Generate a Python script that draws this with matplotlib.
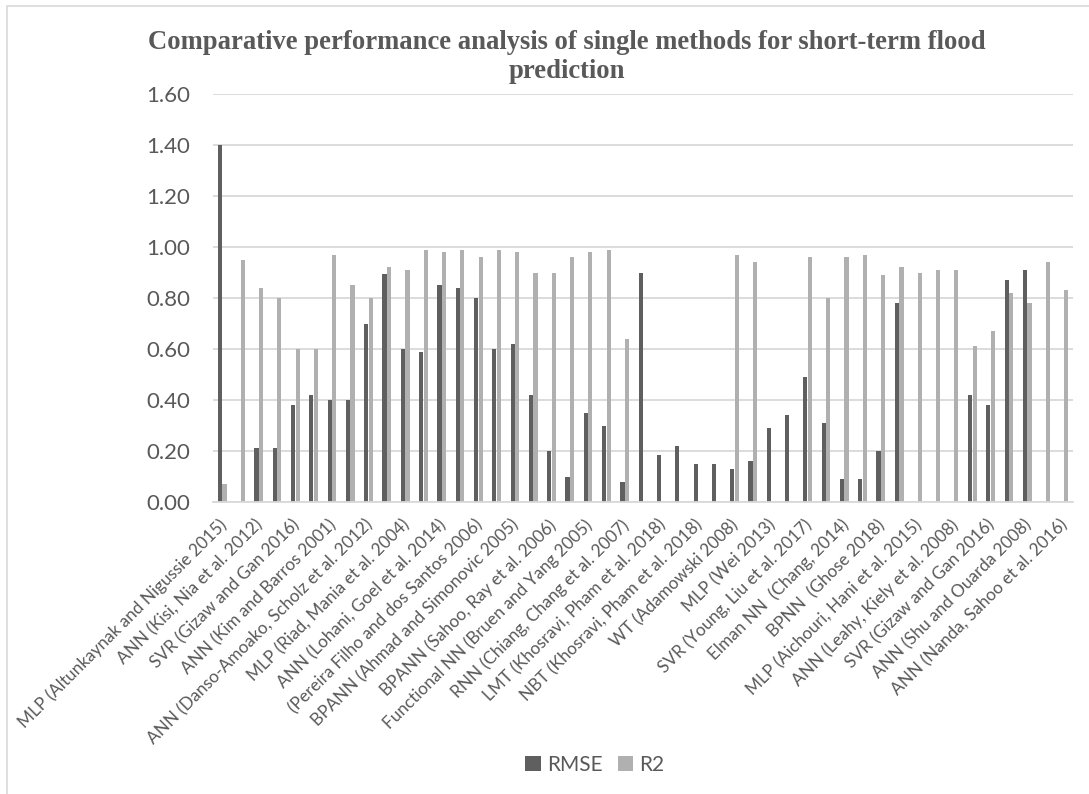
import matplotlib
matplotlib.use("Agg")
import matplotlib.pyplot as plt
import matplotlib.transforms as mtransforms
import numpy as np
from matplotlib.patches import Rectangle

# Tick labels (Excel shows every other category label)
tick_labels = [
    "MLP (Altunkaynak and Nigussie 2015)",
    "ANN (Kisi, Nia et al. 2012)",
    "SVR (Gizaw and Gan 2016)",
    "ANN (Kim and Barros 2001)",
    "ANN (Danso-Amoako, Scholz et al. 2012)",
    "MLP (Riad, Mania et al. 2004)",
    "ANN (Lohani, Goel et al. 2014)",
    "(Pereira Filho and dos Santos 2006)",
    "BPANN (Ahmad and Simonovic 2005)",
    "BPANN (Sahoo, Ray et al. 2006)",
    "Functional NN (Bruen and Yang 2005)",
    "RNN (Chiang, Chang et al. 2007)",
    "LMT (Khosravi, Pham et al. 2018)",
    "NBT (Khosravi, Pham et al. 2018)",
    "WT (Adamowski 2008)",
    "MLP (Wei 2013)",
    "SVR (Young, Liu et al. 2017)",
    "Elman NN  (Chang, 2014)",
    "BPNN  (Ghose 2018)",
    "MLP (Aichouri, Hani et al. 2015)",
    "ANN (Leahy, Kiely et al. 2008)",
    "SVR (Gizaw and Gan 2016)",
    "ANN (Shu and Ouarda 2008)",
    "ANN (Nanda, Sahoo et al. 2016)",
]

rmse = [1.40, 0.00, 0.21, 0.21, 0.38, 0.42, 0.40, 0.40, 0.70, 0.895,
        0.60, 0.59, 0.85, 0.84, 0.80, 0.60, 0.62, 0.42, 0.20, 0.10,
        0.35, 0.30, 0.08, 0.90, 0.185, 0.22, 0.15, 0.15, 0.13, 0.16,
        0.29, 0.34, 0.49, 0.31, 0.09, 0.09, 0.20, 0.78, 0.00, 0.00,
        0.00, 0.42, 0.38, 0.87, 0.91, 0.00, 0.00]

r2 = [0.07, 0.95, 0.84, 0.80, 0.60, 0.60, 0.97, 0.85, 0.80, 0.92,
      0.91, 0.99, 0.98, 0.99, 0.96, 0.99, 0.98, 0.90, 0.90, 0.96,
      0.98, 0.99, 0.64, 0.00, 0.00, 0.00, 0.00, 0.00, 0.97, 0.94,
      0.00, 0.00, 0.96, 0.80, 0.96, 0.97, 0.89, 0.92, 0.90, 0.91,
      0.91, 0.61, 0.67, 0.82, 0.78, 0.94, 0.83]

series_names = ["RMSE", "R2"]
colors = ["#5f5f5f", "#b0b0b0"]
text_color = "#595959"

W, H = 1089, 794
fig = plt.figure(figsize=(W / 100, H / 100), dpi=100)

# chart area border
fig.patches.append(Rectangle((7 / W, -0.1), 1.2, 1 - 6 / H + 0.1, transform=fig.transFigure,
                             fill=False, edgecolor="#d9d9d9", linewidth=1.2))

ax = fig.add_axes([213 / W, 1 - 502 / H, (1073 - 213) / W, (502 - 94) / H])

n = len(rmse)
x = np.arange(n)
bw = 0.23
off = 0.125
ax.bar(x - off, rmse, width=bw, color=colors[0], label=series_names[0], zorder=3)
ax.bar(x + off, r2, width=bw, color=colors[1], label=series_names[1], zorder=3)

ax.set_xlim(-0.5, n - 0.5)
ax.set_ylim(0, 1.6)
yt = np.arange(0, 1.61, 0.2)
ax.set_yticks(yt)
ax.set_yticklabels([f"{v:.2f}" for v in yt], fontsize=16, color=text_color, family="Lato")
ax.yaxis.grid(True, color="#d9d9d9", linewidth=1.3, zorder=0)
ax.tick_params(axis="y", length=0, pad=16.5)
ax.tick_params(axis="x", length=0, pad=4)

ax.set_xticks(x[::2])
ax.set_xticklabels(tick_labels, rotation=45, ha="right", va="top", rotation_mode="anchor",
                   fontsize=12.3, color=text_color, family="Lato")
shift = mtransforms.ScaledTranslation(-4 / 100, -9 / 100, fig.dpi_scale_trans)
for lab in ax.get_xticklabels():
    lab.set_transform(lab.get_transform() + shift)

for s in ["top", "right", "left"]:
    ax.spines[s].set_visible(False)
ax.spines["bottom"].set_color("#d9d9d9")
ax.spines["bottom"].set_linewidth(1.3)
ax.spines["bottom"].set_zorder(4)

fig.text(567 / W, 1 - 30 / H,
         "Comparative performance analysis of single methods for short-term flood\nprediction",
         ha="center", va="top", fontsize=19.2, fontweight="bold", family="Liberation Serif",
         color=text_color, linespacing=1.2)

leg = fig.legend(loc="center", bbox_to_anchor=(595 / W, 1 - 765 / H), ncol=2, frameon=False,
                 prop={"family": "Lato", "size": 15}, handlelength=0.75, handleheight=0.75,
                 handletextpad=0.3, columnspacing=0.7, labelcolor=text_color)

fig.savefig("out.png", dpi=100)
